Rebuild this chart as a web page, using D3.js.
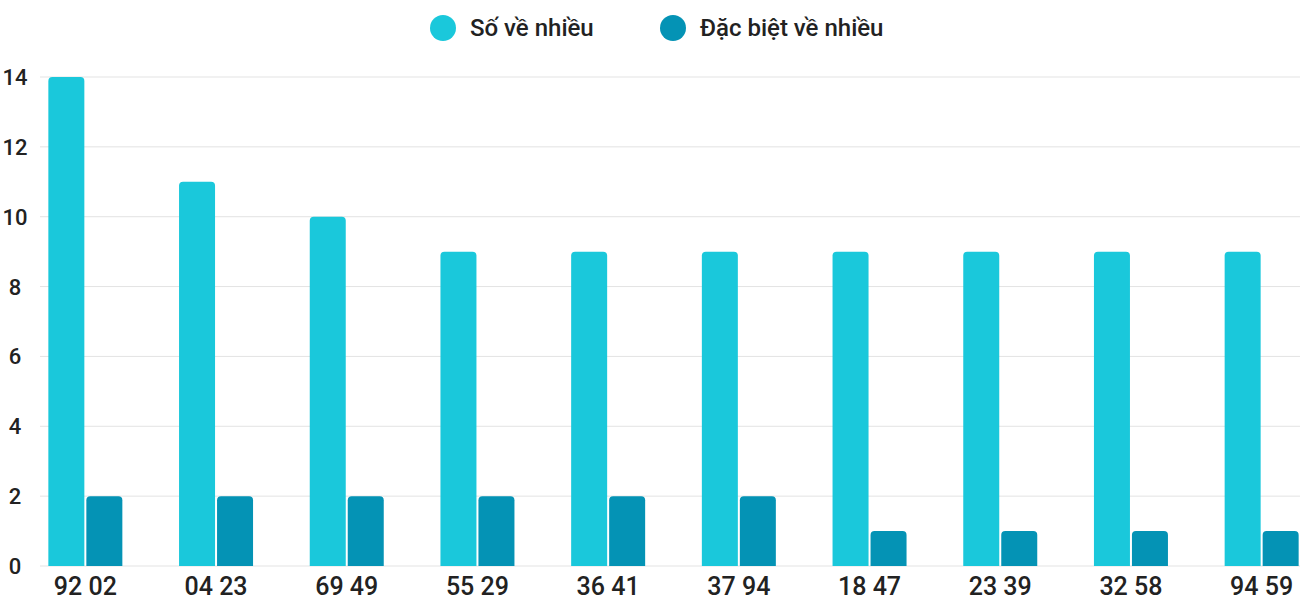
<!DOCTYPE html>
<html><head><meta charset="utf-8">
<script src="https://cdn.jsdelivr.net/npm/d3@7"></script>
<style>body{margin:0;background:#fff}text{font-family:Roboto,sans-serif}</style>
</head><body><svg id="chart"></svg>
<script>
const categories = ["92 02","04 23","69 49","55 29","36 41","37 94","18 47","23 39","32 58","94 59"];
const soVeNhieu = [14,11,10,9,9,9,9,9,9,9];
const dacBiet = [2,2,2,2,2,2,1,1,1,1];
const seriesNames = ["Số về nhiều","Đặc biệt về nhiều"];
const colors = ["#1ac8db","#0493b5"];
const yTicks = [0,2,4,6,8,10,12,14];

const width = 1300, height = 600;
const svg = d3.select("#chart").attr("width", width).attr("height", height);

const x = d3.scaleBand().domain(categories).range([20, 1327]);
const y = d3.scaleLinear().domain([0, 14]).range([566, 77]);

// gridlines
svg.selectAll(".grid").data(yTicks).enter().append("line")
    .attr("x1", 40).attr("x2", 1300)
    .attr("y1", d => y(d)).attr("y2", d => y(d))
    .attr("stroke", "#e3e3e3").attr("stroke-width", 1);

// y labels
svg.selectAll(".ylab").data(yTicks).enter().append("text")
    .attr("x", 15).attr("y", d => y(d) + 8)
    .attr("text-anchor", "middle").attr("font-size", 22).attr("font-weight", 500).attr("fill", "#222")
    .text(d => d);

// bars with rounded tops
function barPath(x0, w, top, bottom, r) {
    r = Math.min(r, (bottom - top));
    return `M${x0},${bottom}V${top + r}Q${x0},${top} ${x0 + r},${top}H${x0 + w - r}Q${x0 + w},${top} ${x0 + w},${top + r}V${bottom}Z`;
}
const bw = 36;
[soVeNhieu, dacBiet].forEach((vals, si) => {
    svg.selectAll(".bar" + si).data(vals).enter().append("path")
        .attr("fill", colors[si])
        .attr("d", (d, i) => {
            const c = x(categories[i]) + x.bandwidth() / 2;
            const x0 = si === 0 ? c - 1 - bw : c + 1;
            return barPath(x0, bw, y(d), y(0), 4);
        });
});

// x labels
svg.selectAll(".xlab").data(categories).enter().append("text")
    .attr("x", d => x(d) + x.bandwidth() / 2).attr("y", 595)
    .attr("text-anchor", "middle").attr("font-size", 25).attr("font-weight", 500).attr("fill", "#222")
    .text(d => d);

// legend
const legendX = [443, 673];
seriesNames.forEach((n, i) => {
    svg.append("circle").attr("cx", legendX[i]).attr("cy", 28).attr("r", 13).attr("fill", colors[i]);
    svg.append("text").attr("x", legendX[i] + 27).attr("y", 36)
        .attr("font-size", 24).attr("font-weight", 500).attr("fill", "#222").text(n);
});
</script></body></html>
